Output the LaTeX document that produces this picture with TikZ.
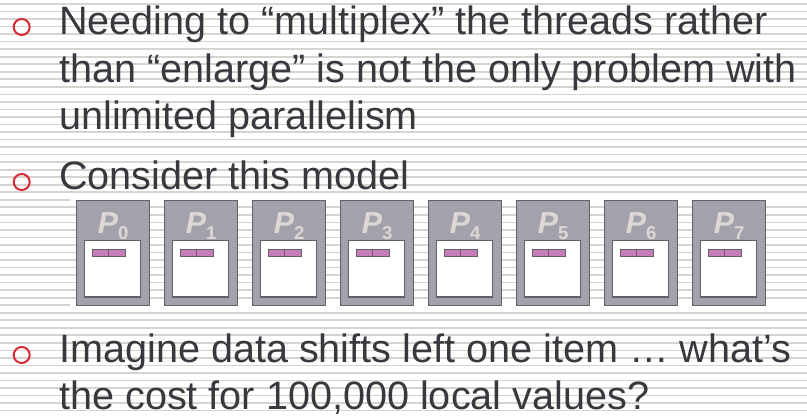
\documentclass[tikz,border=0pt]{standalone}
\usepackage{fontspec}
\setmainfont{Liberation Sans}
\usetikzlibrary{calc}
\definecolor{stripegray}{RGB}{217,211,207}
\definecolor{bulletred}{RGB}{212,42,54}
\definecolor{textgray}{RGB}{56,56,62}
\definecolor{procgray}{RGB}{163,161,171}
\definecolor{edgegray}{RGB}{96,96,104}
\definecolor{cellpink}{RGB}{200,124,186}
\definecolor{labelgray}{RGB}{222,216,212}
\tikzset{
  stripe/.style={line width=1.7pt, color=stripegray},
  bullet/.style={circle, draw=bulletred, line width=2pt, minimum size=16pt, inner sep=0pt},
  bodytext/.style={anchor=base west, inner sep=0pt, text=textgray, font=\fontsize{39.6}{47.5}\selectfont},
  procbox/.style={draw=edgegray, line width=1pt, fill=procgray},
  membox/.style={draw=edgegray, line width=1pt, fill=white},
  cellbox/.style={draw=edgegray, line width=0.8pt, fill=cellpink},
  plabel/.style={anchor=base, inner sep=0pt, text=labelgray, font=\fontsize{30.3}{32}\selectfont\bfseries\itshape}
}

\begin{document}
\begin{tikzpicture}[x=1pt, y=-1pt]
		%%%%% START %%%%%
		\useasboundingbox (0, 0) rectangle (807, 417);
		\fill[white] (0, 0) rectangle (807, 417);
		
		% ruled background
		\foreach \k in {0,...,54}
			\draw[stripe] (0, {4+7.53*\k}) -- (807, {4+7.53*\k});
		\fill[white] (70, 197) rectangle (807, 203.5);
		\fill[white] (70, 301) rectangle (807, 309.5);
		
		% bullet points
		\node[bullet] (b1) at (21.7, 27) {};
		\node[bullet] (b4) at (21.7, 182) {};
		\node[bullet] (b5) at (21.7, 355) {};
		
		\node[bodytext] (l1) at (59, 35) {Needing to “multiplex” the threads rather};
		\node[bodytext] (l2) at (59, 82.5) {than “enlarge” is not the only problem with};
		\node[bodytext] (l3) at (59, 130) {unlimited parallelism};
		\node[bodytext] (l4) at (59, 190) {Consider this model};
		\node[bodytext] (l5) at (59, 362.7) {Imagine data shifts left one item … what’s};
		\node[bodytext] (l6) at (59, 409) {the cost for 100,000 local values?};
		
		% eight processors with local memory
		\foreach \i in {0,...,7} {
			\pgfmathsetmacro{\xo}{76.7+88*\i}
			\draw[procbox] (\xo, 201) rectangle ({\xo+72.5}, 305);
			\draw[membox] ({\xo+8}, 241) rectangle ({\xo+64}, 297);
			\draw[cellbox] ({\xo+15.7}, 249) rectangle ({\xo+32}, 256.7);
			\draw[cellbox] ({\xo+32}, 249) rectangle ({\xo+48.3}, 256.7);
			\node[plabel] (p\i) at ({\xo+36.5}, 233.3) {P\raisebox{-6.7pt}{\fontsize{18.6}{20}\selectfont\upshape\i}};
		}
		
		%%%%% END %%%%%
\end{tikzpicture}
\end{document}
